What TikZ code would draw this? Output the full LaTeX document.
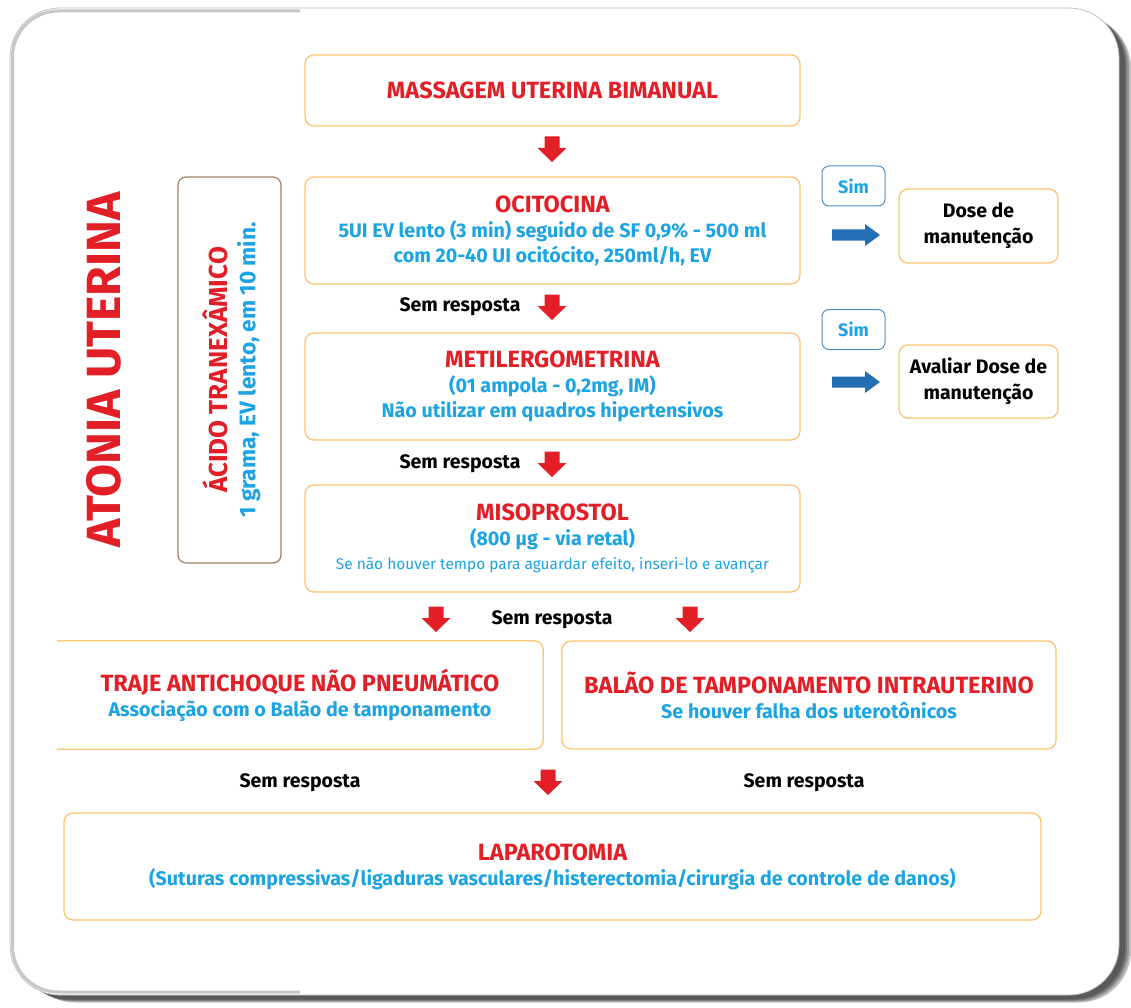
\documentclass[tikz,border=0pt]{standalone}
\usepackage{fontspec}
\setmainfont{Fira Sans}

\definecolor{alarmred}{RGB}{226,30,38}
\definecolor{infoblue}{RGB}{28,163,226}
\definecolor{boxorange}{RGB}{252,196,110}
\definecolor{boxbrown}{RGB}{160,128,100}
\definecolor{arrowblue}{RGB}{36,110,180}
\definecolor{simblue}{RGB}{80,140,200}

\newcommand\ttl[1]{{\fontsize{23.5}{25}\selectfont\color{alarmred}#1}}
\newcommand\bl[1]{{\color{infoblue}#1}}

\tikzset{
  stepbox/.style={draw=boxorange, line width=1.3pt, rounded corners=9pt,
    align=center, inner sep=0pt},
  plainbox/.style={align=center, inner sep=0pt},
  simbox/.style={draw=simblue, line width=1pt, rounded corners=7pt,
    minimum width=63, minimum height=40, inner sep=0pt,
    text=infoblue, font=\bfseries\fontsize{18}{20}\selectfont},
  nores/.style={font=\bfseries\fontsize{19.5}{22}\selectfont, inner sep=0pt},
  % thick red arrow pointing down, centred on its position
  downarr/.pic={
    \fill[alarmred] (-7.5,-12.5) -- (7.5,-12.5) -- (7.5,-1) -- (14.5,-1)
      -- (0,13) -- (-14.5,-1) -- (-7.5,-1) -- cycle;
    \coordinate (-c) at (0,0);
  },
  % thick blue arrow pointing right
  rightarr/.pic={
    \fill[arrowblue] (-24,-5.5) -- (9,-5.5) -- (9,-11) -- (24,0)
      -- (9,11) -- (9,5.5) -- (-24,5.5) -- cycle;
    \coordinate (-c) at (0,0);
  },
}

\begin{document}
\begin{tikzpicture}[x=1pt,y=-1pt, font=\bfseries\fontsize{19.7}{25}\selectfont]
\useasboundingbox (0,0) rectangle (1131,1008);

% panel with its shadow
\foreach \s/\g in {13/25,11/40,9/55,7/65}{
  \fill[black!\g, rounded corners=52pt] (10+\s,8+\s*0.6) rectangle (1118+\s,996+\s*0.5);
}
\fill[white, draw=black!25, line width=0.8pt, rounded corners=50pt] (10,8) rectangle (1119,995);
\draw[black!22, line width=3pt, rounded corners=46pt] (300,11) -- (12.5,11) -- (12.5,992) -- (300,992);

% main sequence
\node[stepbox, minimum width=495, minimum height=71] (massagem) at (552.5,90.5)
  {\ttl{MASSAGEM UTERINA BIMANUAL}};
\node[stepbox, minimum width=495, minimum height=107] (ocito) at (552.5,230.5)
  {\ttl{OCITOCINA}\\ \bl{5UI EV lento (3 min) seguido de SF 0,9\% - 500 ml}\\ \bl{com 20-40 UI ocitócito, 250ml/h, EV}};
\node[stepbox, minimum width=495, minimum height=107] (metil) at (552.5,386.5)
  {\ttl{METILERGOMETRINA}\\ \bl{(01 ampola - 0,2mg, IM)}\\ \bl{Não utilizar em quadros hipertensivos}};
\node[stepbox, minimum width=495, minimum height=107] (miso) at (552.5,538.5)
  {\ttl{MISOPROSTOL}\\ \bl{(800 µg - via retal)}\\[-1pt] {\mdseries\fontsize{15.4}{20}\selectfont\bl{Se não houver tempo para aguardar efeito, inseri-lo e avançar}}};

% second-line measures
\node[plainbox, minimum width=486, minimum height=108] (traje) at (300,695)
  {\ttl{TRAJE ANTICHOQUE NÃO PNEUMÁTICO}\\ \bl{Associação com o Balão de tamponamento}};
\draw[boxorange, line width=1.3pt, rounded corners=9pt]
  (traje.north west) -- (traje.north east) -- (traje.south east) -- (traje.south west);
\node[stepbox, minimum width=494, minimum height=108] (balao) at (809,695)
  {\ttl{BALÃO DE TAMPONAMENTO INTRAUTERINO}\\ \bl{Se houver falha dos uterotônicos}};

\node[stepbox, minimum width=977, minimum height=107] (lapa) at (552.5,866.5)
  {\ttl{LAPAROTOMIA}\\ \bl{(Suturas compressivas/ligaduras vasculares/histerectomia/cirurgia de controle de danos)}};

% tranexamic acid, alongside the drug steps
\node[draw=boxbrown, line width=1.2pt, rounded corners=8pt, minimum width=103, minimum height=386] (acido) at (229.5,370) {};
\node[plainbox, rotate=90, font=\bfseries\fontsize{22.6}{28}\selectfont] (acidotxt) at ([xshift=2]acido.center)
  {{\fontsize{26}{28}\selectfont\color{alarmred}ÁCIDO TRANEXÂMICO}\\ \bl{1 grama, EV lento, em 10 min.}};

% vertical title
\node[rotate=90, text=alarmred, font=\bfseries\fontsize{48}{50}\selectfont, inner sep=0pt] (titulo) at (104,370) {ATONIA UTERINA};

% positive responses
\node[simbox] (sim1) at (853.5,186) {Sim};
\node[simbox] (sim2) at (853.5,329.5) {Sim};
\pic (go1) at (856,235) {rightarr};
\pic (go2) at (856,382) {rightarr};
\node[stepbox, minimum width=159, minimum height=74, font=\bfseries\fontsize{19.5}{26}\selectfont] (dose) at (978.5,226)
  {Dose de\\ manutenção};
\node[stepbox, minimum width=159, minimum height=73, font=\bfseries\fontsize{19.5}{26}\selectfont] (avaliar) at (978.5,381.5)
  {Avaliar Dose de\\ manutenção};

% flow arrows
\pic (a1) at (552,149) {downarr};
\pic (a2) at (552,307) {downarr};
\pic (a3) at (552,464) {downarr};
\pic (a4) at (436,619) {downarr};
\pic (a5) at (690,619) {downarr};
\pic (a6) at (548,782) {downarr};

\node[nores] (n1) at (460,307) {Sem resposta};
\node[nores] (n2) at (460,464) {Sem resposta};
\node[nores] (n3) at (552,620) {Sem resposta};
\node[nores] (n4) at (300,783) {Sem resposta};
\node[nores] (n5) at (804,783) {Sem resposta};
\end{tikzpicture}
\end{document}
